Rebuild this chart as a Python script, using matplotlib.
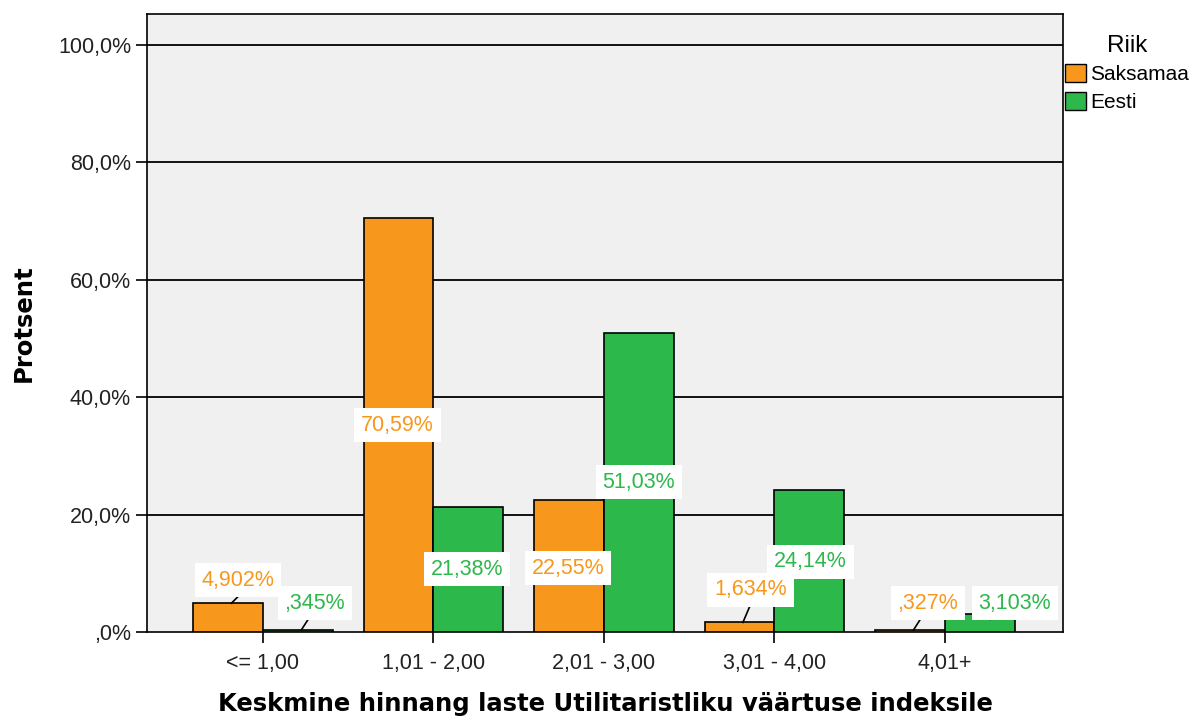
import numpy as np
import matplotlib
matplotlib.use("Agg")
import matplotlib.pyplot as plt
from matplotlib.patches import Patch
from matplotlib.ticker import FuncFormatter

plt.rcParams['font.family'] = ['Liberation Sans', 'DejaVu Sans']

# Data
categories = ["<= 1,00", "1,01 - 2,00", "2,01 - 3,00", "3,01 - 4,00", "4,01+"]
saksamaa = [4.902, 70.59, 22.55, 1.634, 0.327]
eesti = [0.345, 21.38, 51.03, 24.14, 3.103]
saksamaa_labels = ["4,902%", "70,59%", "22,55%", "1,634%", ",327%"]
eesti_labels = [",345%", "21,38%", "51,03%", "24,14%", "3,103%"]

orange = "#F7981D"
green = "#2DB84B"

fig = plt.figure(figsize=(11.93, 7.2), dpi=100)
ax = fig.add_axes([0.1232, 0.1222, 0.7678, 0.8584])
ax.set_facecolor("#F0F0F0")

x = np.arange(len(categories))
w = 0.41
ax.bar(x - w / 2, saksamaa, w, color=orange, edgecolor="black", linewidth=1.2, zorder=3)
ax.bar(x + w / 2, eesti, w, color=green, edgecolor="black", linewidth=1.2, zorder=3)

ax.set_xlim(-0.68, 4.692)
ax.set_ylim(0, 105.3)

for yv in [20, 40, 60, 80, 100]:
    ax.axhline(yv, color="black", linewidth=1.3, zorder=1)

ax.yaxis.set_major_formatter(FuncFormatter(lambda v, p: ",0%" if v == 0 else f"{v:.1f}%".replace(".", ",")))
ax.set_yticks([0, 20, 40, 60, 80, 100])
ax.set_xticks(x)
ax.set_xticklabels(categories)
ax.tick_params(axis="both", labelsize=15.5, length=8, width=1.2, color="black", labelcolor="#222222")
ax.tick_params(axis="x", pad=7)
for s in ax.spines.values():
    s.set_linewidth(1.2)

# value labels: (x offset from category centre, y) in data coords
s_pos = [(-0.146, 8.86), (-0.21, 35.26), (-0.21, 10.9), (-0.14, 7.16), (-0.10, 4.94)]
e_pos = [(0.304, 4.94), (0.196, 10.73), (0.205, 25.55), (0.21, 11.93), (0.41, 4.94)]
box = dict(facecolor="white", edgecolor="none", pad=5)
for i in range(len(categories)):
    for vals, labels, pos, col, off in [(saksamaa, saksamaa_labels, s_pos, orange, -w / 2),
                                         (eesti, eesti_labels, e_pos, green, w / 2)]:
        dx, yy = pos[i]
        ax.text(i + dx, yy, labels[i], color=col, fontsize=15.5, ha="center", va="center",
                bbox=box, zorder=5)
        if vals[i] < 6:
            bx = i + off + 0.02
            ax.plot([bx, bx + 0.04], [vals[i], yy - 2.8], color="black", linewidth=1.2, zorder=4)

ax.set_ylabel("Protsent", fontsize=17.5, fontweight="bold", family="DejaVu Sans", labelpad=16)
ax.set_xlabel("Keskmine hinnang laste Utilitaristliku väärtuse indeksile", fontsize=17.5,
              fontweight="bold", family="DejaVu Sans", labelpad=13)

handles = [Patch(facecolor=orange, edgecolor="black", label="Saksamaa"),
           Patch(facecolor=green, edgecolor="black", label="Eesti")]
leg = fig.legend(handles=handles, title="Riik", loc="upper left", bbox_to_anchor=(0.893, 0.952),
                 frameon=False, fontsize=15, title_fontsize=17.5, handlelength=1.0, handleheight=1.0,
                 handletextpad=0.2, labelspacing=0.35, borderaxespad=0, borderpad=0)
leg._legend_box.align = "center"

fig.savefig("out.png", dpi=100)
